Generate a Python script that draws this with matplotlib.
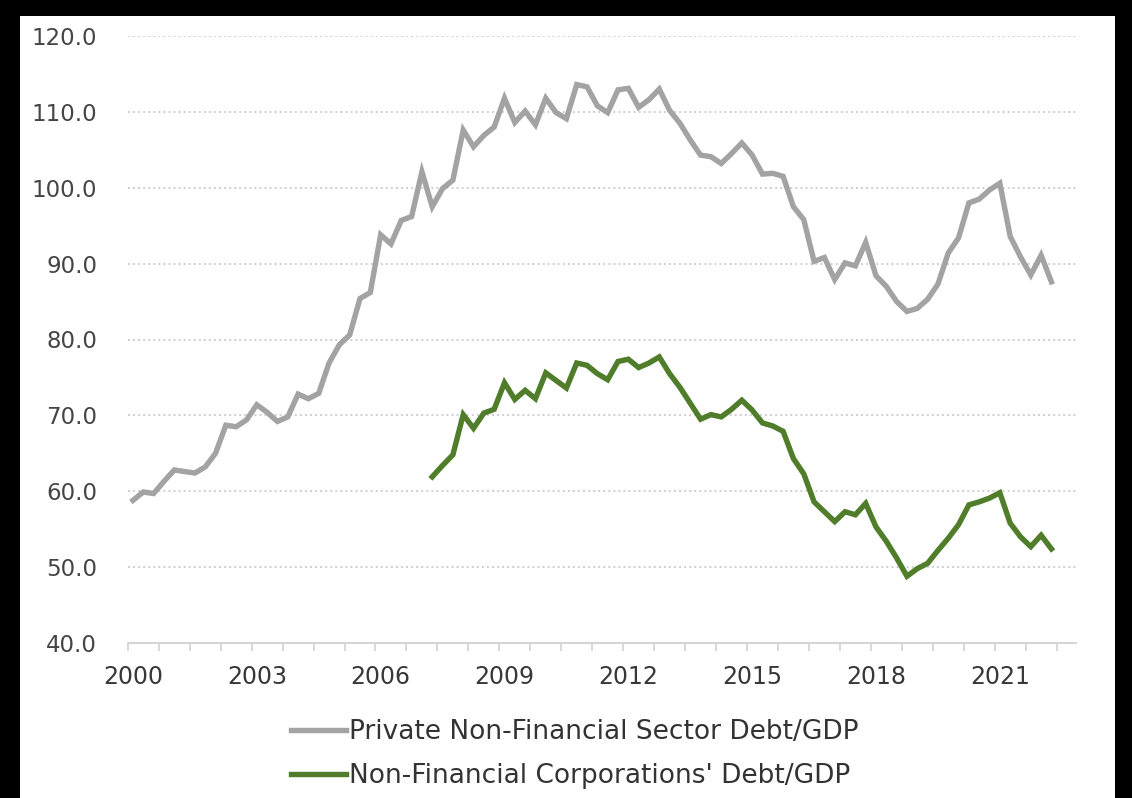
import matplotlib
matplotlib.use("Agg")
import matplotlib.pyplot as plt
from matplotlib.patches import Rectangle
from matplotlib.lines import Line2D
import numpy as np
import pandas as pd

# Quarterly debt ratios (% of GDP)
private_start, private_end = "2000Q1", "2022Q2"
private_debt = [
    58.8, 59.9, 59.7, 61.3, 62.8, 62.6, 62.4, 63.2, 65.0, 68.7,
    68.5, 69.4, 71.4, 70.4, 69.2, 69.8, 72.8, 72.2, 72.9, 76.9,
    79.3, 80.6, 85.4, 86.2, 93.8, 92.6, 95.7, 96.2, 102.1, 97.5,
    99.9, 101.0, 107.6, 105.4, 106.9, 108.0, 111.8, 108.6, 110.1, 108.3,
    111.8, 109.9, 109.1, 113.6, 113.3, 110.8, 109.9, 112.9, 113.1, 110.6,
    111.6, 113.0, 110.2, 108.5, 106.3, 104.3, 104.1, 103.2, 104.5, 105.9,
    104.3, 101.8, 101.9, 101.5, 97.5, 95.8, 90.3, 90.8, 87.9, 90.1,
    89.7, 92.8, 88.4, 87.0, 85.0, 83.7, 84.1, 85.3, 87.3, 91.4,
    93.4, 98.0, 98.5, 99.7, 100.6, 93.6, 90.9, 88.5, 91.1, 87.6,
]

corp_start, corp_end = "2007Q2", "2022Q2"
corp_debt = [
    61.9, 63.4, 64.8, 70.1, 68.3, 70.3, 70.8, 74.3, 72.1, 73.3,
    72.2, 75.6, 74.6, 73.6, 76.9, 76.6, 75.5, 74.7, 77.1, 77.4,
    76.3, 76.9, 77.7, 75.5, 73.7, 71.6, 69.5, 70.1, 69.8, 70.8,
    72.0, 70.7, 69.0, 68.6, 67.9, 64.3, 62.3, 58.6, 57.3, 56.0,
    57.3, 56.9, 58.4, 55.3, 53.4, 51.2, 48.8, 49.8, 50.5, 52.2,
    53.8, 55.6, 58.2, 58.6, 59.1, 59.8, 55.8, 54.0, 52.7, 54.2,
    52.4,
]

series_labels = [
    "Private Non-Financial Sector Debt/GDP",
    "Non-Financial Corporations' Debt/GDP",
]
series_colors = ["#a3a3a3", "#4f7d2a"]

year_ticks = [2000, 2003, 2006, 2009, 2012, 2015, 2018, 2021]
y_ticks = [40, 50, 60, 70, 80, 90, 100, 110, 120]


def to_years(start, end):
    p = pd.period_range(start, end, freq="Q")
    return p.year + (p.quarter - 1) / 4.0


x_private = to_years(private_start, private_end)
x_corp = to_years(corp_start, corp_end)

W, H = 1132, 798
fig = plt.figure(figsize=(W / 100, H / 100), dpi=100)
fig.patch.set_facecolor("black")
fig.add_artist(Rectangle((20 / W, 0), (1115 - 20) / W, (H - 16) / H,
                         transform=fig.transFigure, facecolor="white",
                         edgecolor="none", zorder=0))

x_left, x_right = 127.8, 1076
y_top, y_bot = 36, 643
ax = fig.add_axes([x_left / W, (H - y_bot) / H, (x_right - x_left) / W, (y_bot - y_top) / H])
ax.set_facecolor("none")

ax.plot(x_private, private_debt, color=series_colors[0], lw=3.9,
        solid_joinstyle="miter", zorder=3)
ax.plot(x_corp, corp_debt, color=series_colors[1], lw=3.9,
        solid_joinstyle="miter", zorder=4)

xmin = 1999.875
ax.set_xlim(xmin, xmin + (x_right - x_left) / 41.28)
ax.set_ylim(40, 120)

# horizontal dotted gridlines
ax.set_yticks(y_ticks)
ax.set_yticklabels([f"{v:.1f}" for v in y_ticks])
for v in y_ticks[1:]:
    ax.axhline(v, color="#cccccc", lw=1.3, ls=(0, (1.1, 1.7)), zorder=1)

for s in ["top", "right", "left"]:
    ax.spines[s].set_visible(False)
ax.spines["bottom"].set_color("#d4d4d4")
ax.spines["bottom"].set_linewidth(1.4)

ax.set_xticks(year_ticks)
ax.set_xticklabels([str(y) for y in year_ticks])
ax.set_xticks(np.arange(xmin, 2022.7, 0.75), minor=True)
ax.tick_params(axis="x", which="major", length=0, pad=16,
               labelsize=17, labelcolor="#383838")
ax.tick_params(axis="x", which="minor", length=6, width=1.3,
               color="#d4d4d4", direction="out")
ax.tick_params(axis="y", length=0, pad=22, labelsize=16.5,
               labelcolor="#454545")

handles = [Line2D([0], [0], color=c, lw=3.9) for c in series_colors]
fig.legend(handles, series_labels, loc="upper left",
           bbox_to_anchor=(291 / W, (H - 719) / H),
           frameon=False, fontsize=19, labelcolor="#333333",
           handlelength=2.1, handletextpad=0.1, labelspacing=0.68,
           borderpad=0, borderaxespad=0)

fig.savefig("out.png", dpi=100, facecolor=fig.get_facecolor())
